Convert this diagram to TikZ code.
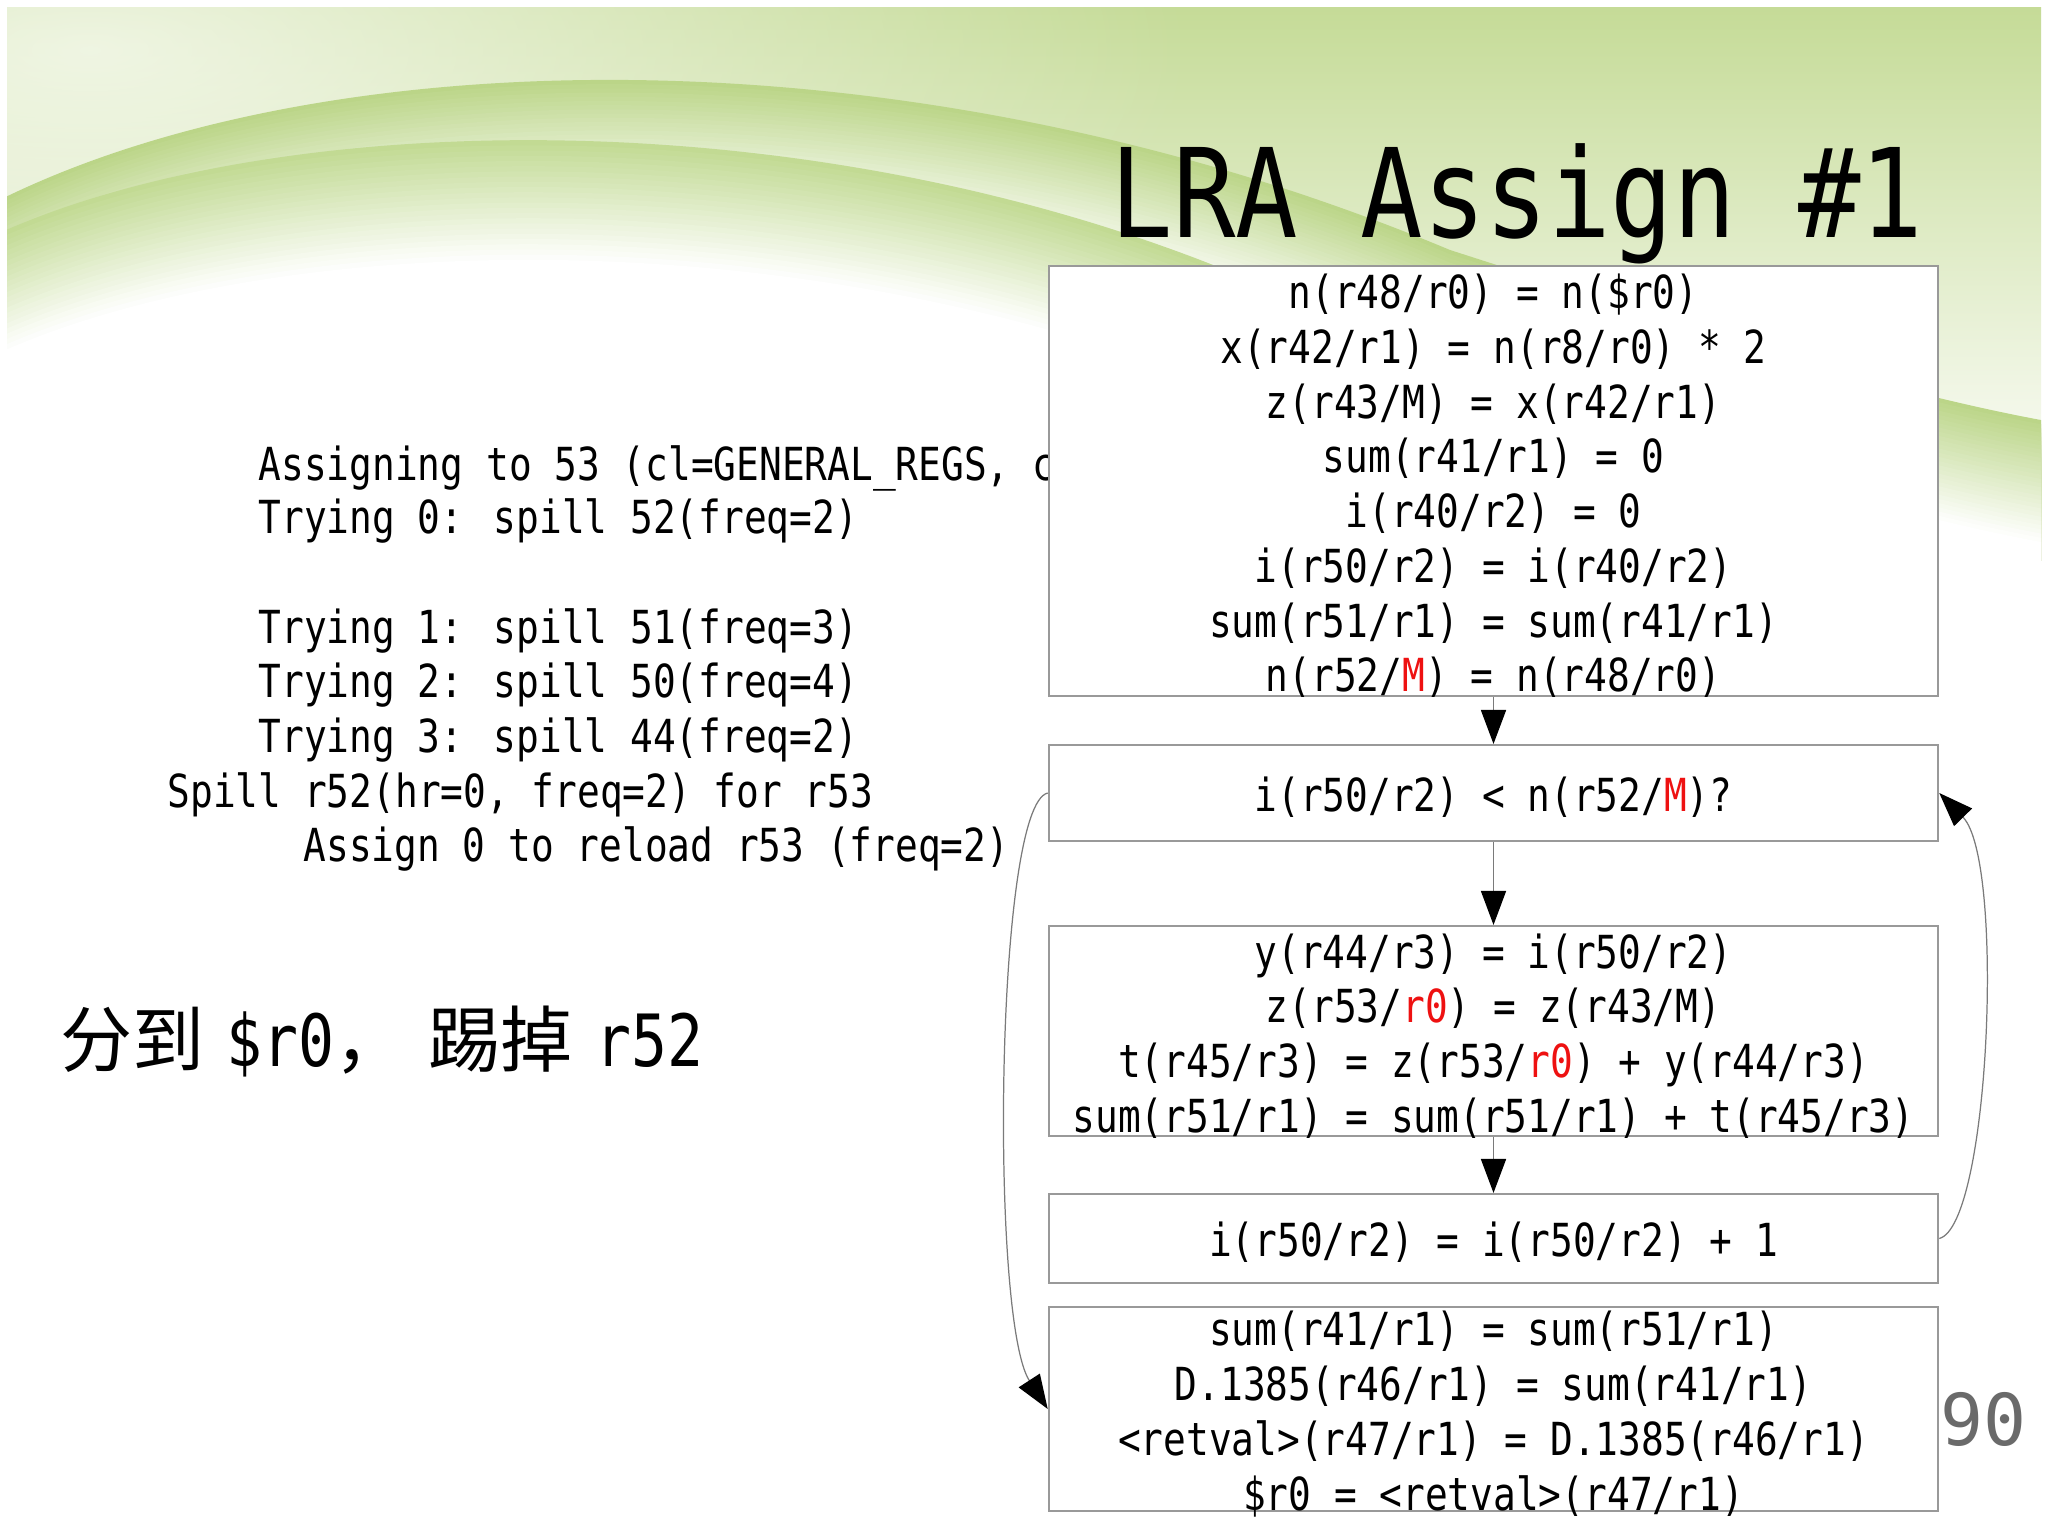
\documentclass[tikz,border=0pt]{standalone}
\usepackage{fontspec}
\usetikzlibrary{arrows.meta,fadings}
\newfontfamily\monoc[FakeStretch=0.83]{DejaVu Sans Mono}
\newfontfamily\titlefont[FakeStretch=0.84]{DejaVu Sans Mono}
\newfontfamily\pagenumfont{DejaVu Sans Mono}
\newfontfamily\cjkf{Noto Sans CJK SC}
\definecolor{bgtop}{HTML}{C5DB97}
\definecolor{bgmid}{HTML}{CFE2A8}
\definecolor{waveA}{HTML}{BBD588}
\definecolor{waveB}{HTML}{C2DA93}
\definecolor{boxgray}{HTML}{999999}
\definecolor{linegray}{HTML}{7A7A7A}
\definecolor{hired}{HTML}{EE1111}
\definecolor{pagegray}{HTML}{6A6A6A}
\tikzfading[name=softglow, inner color=transparent!0, outer color=transparent!100]
\newcommand\bodyfont{\monoc\fontsize{12.95pt}{15.56pt}\selectfont}
\newcommand\hr[1]{\textcolor{hired}{#1}}
\begin{document}
\begin{tikzpicture}[x=0.01cm,y=-0.01cm,
  box/.style={draw=boxgray, line width=0.57pt, fill=white, minimum width=8.89cm, inner sep=0pt},
  boxtext/.style={inner sep=0pt, align=center, font=\bodyfont},
  logline/.style={anchor=base west, inner sep=0pt, font=\bodyfont},
  arr/.style={draw=linegray, line width=0.45pt,
              -{Triangle[length=3.4mm,width=2.5mm,color=black,fill=black]}},
  carr/.style={arr, line width=0.35pt}]
\useasboundingbox (0,0) rectangle (2048,1536);
\fill[white] (0,0) rectangle (2048,1536);
% ---------- background ----------
\begin{scope}
  \clip (7,7) rectangle (2041,560);
  \shade[top color=bgtop, middle color=bgmid, bottom color=white] (7,7) rectangle (2041,520);
  \fill[white, fill opacity=0.7, path fading=softglow] (90,50) ellipse [x radius=11cm, y radius=4.2cm];
  % first swoosh: green band under the outer arc, fading downwards
  \foreach \i in {0,...,29} {
    \pgfmathtruncatemacro\c{max(0,100-\i*3.45)}
    \pgfmathsetmacro\sh{-\i*0.042}
    \fill[waveA!\c!white, yshift=\sh cm]
      (-20,210) .. controls (300,40) and (900,20) .. (1450,250)
      .. controls (1700,330) and (1900,400) .. (2100,430) -- (2100,700) -- (-20,700) -- cycle;
  }
  % second swoosh: green band under the inner arc, fading to white
  \foreach \i in {0,...,23} {
    \pgfmathtruncatemacro\c{max(0,100-\i*4.35)}
    \pgfmathsetmacro\sh{-\i*0.052}
    \fill[waveB!\c!white, yshift=\sh cm]
      (-20,242) .. controls (250,110) and (800,90) .. (1250,280) -- (1250,700) -- (-20,700) -- cycle;
  }
\end{scope}
% ---------- left log text ----------
\node[logline] (l1) at (258,480) {Assigning to 53 (cl=GENERAL\_REGS, c};
\node[logline] (l2) at (258,533) {Trying 0: spill 52(freq=2)};
\node[logline] (l3) at (258,643) {Trying 1: spill 51(freq=3)};
\node[logline] (l4) at (258,697) {Trying 2: spill 50(freq=4)};
\node[logline] (l5) at (258,752) {Trying 3: spill 44(freq=2)};
\node[logline] (l6) at (167,807) {Spill r52(hr=0, freq=2) for r53};
\node[logline] (l7) at (303,861) {Assign 0 to reload r53 (freq=2)};
% ---------- chinese note ----------
\node[anchor=base west, inner sep=0pt, font=\fontsize{20.49pt}{24pt}\selectfont] (note) at (60,1066)
  {{\cjkf 分到}\hspace{0.22cm}{\monoc \$r0}{\cjkf ，}\hspace{0.22cm}{\cjkf 踢掉}\hspace{0.22cm}{\monoc r52}};
% ---------- flow boxes ----------
\node[box, minimum height=4.30cm] (b1) at (1493.5,481) {};
\node[box, minimum height=0.96cm] (b2) at (1493.5,793) {};
\node[box, minimum height=2.10cm] (b3) at (1493.5,1031) {};
\node[box, minimum height=0.89cm] (b4) at (1493.5,1238.5) {};
\node[box, minimum height=2.04cm] (b5) at (1493.5,1409) {};
\node[boxtext] (b1t) at (1493.5,486)
  {n(r48/r0) = n(\$r0)\\
   x(r42/r1) = n(r8/r0) * 2\\
   z(r43/M) = x(r42/r1)\\
   sum(r41/r1) = 0\\
   i(r40/r2) = 0\\
   i(r50/r2) = i(r40/r2)\\
   sum(r51/r1) = sum(r41/r1)\\
   n(r52/\hr{M}) = n(r48/r0)};
\node[boxtext] (b2t) at (1493.5,797) {i(r50/r2) < n(r52/\hr{M})?};
\node[boxtext] (b3t) at (1493.5,1036)
  {y(r44/r3) = i(r50/r2)\\
   z(r53/\hr{r0}) = z(r43/M)\\
   t(r45/r3) = z(r53/\hr{r0}) + y(r44/r3)\\
   sum(r51/r1) = sum(r51/r1) + t(r45/r3)};
\node[boxtext] (b4t) at (1493.5,1242) {i(r50/r2) = i(r50/r2) + 1};
\node[boxtext] (b5t) at (1493.5,1414)
  {sum(r41/r1) = sum(r51/r1)\\
   D.1385(r46/r1) = sum(r41/r1)\\
   <retval>(r47/r1) = D.1385(r46/r1)\\
   \$r0 = <retval>(r47/r1)};
% ---------- connectors ----------
\draw[arr] (b1.south) -- (b2.north);
\draw[arr] (b2.south) -- (b3.north);
\draw[arr] (b3.south) -- (b4.north);
\draw[carr] (b4.east) .. controls (1990,1225) and (2005,860) .. (b2.east);
\draw[carr] (b2.west) .. controls (995,805) and (990,1320) .. (b5.west);
% ---------- title and page number ----------
\node[anchor=base west, inner sep=0pt, font=\titlefont\fontsize{35.14pt}{40pt}\selectfont] (title) at (1110,237) {LRA Assign \#1};
\node[anchor=base west, inner sep=0pt, text=pagegray, font=\pagenumfont\fontsize{20.34pt}{24pt}\selectfont] (pg) at (1940,1445) {90};
\end{tikzpicture}
\end{document}
